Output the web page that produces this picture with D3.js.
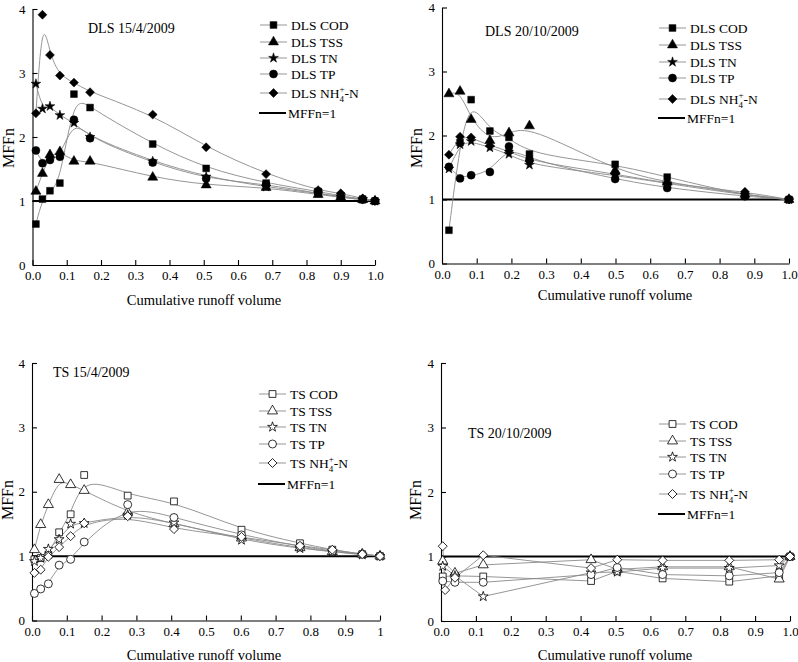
<!DOCTYPE html>
<html>
<head>
<meta charset="utf-8">
<script src="https://cdn.jsdelivr.net/npm/d3@7"></script>
<style>
  body { margin: 0; background: #fff; }
  svg { font-family: 'Liberation Serif', 'Times New Roman', serif; }
</style>
</head>
<body>
<script>
/* global d3 */

// series names (legend order)
const seriesKeys = ['COD', 'TSS', 'TN', 'TP', 'NH4']
const yTicks = [0, 1, 2, 3, 4]
const xTicks = [0, 0.1, 0.2, 0.3, 0.4, 0.5, 0.6, 0.7, 0.8, 0.9, 1]

// DLS 15/4/2009
const dlsAprX = [0.01, 0.029, 0.051, 0.08, 0.121, 0.168, 0.351, 0.507, 0.682, 0.834, 0.90, 0.964, 1.0]
const dlsAprCOD = [0.64, 1.03, 1.16, 1.28, 2.67, 2.46, 1.89, 1.51, 1.28, 1.15, 1.08, 1.03, 1.0]
const dlsAprTSS = [1.15, 1.43, 1.72, 1.77, 1.62, 1.62, 1.37, 1.25, 1.21, 1.10, 1.06, 1.02, 1.0]
const dlsAprTN = [2.83, 2.44, 2.48, 2.34, 2.22, 2.0, 1.62, 1.38, 1.22, 1.12, 1.07, 1.03, 1.0]
const dlsAprTP = [1.79, 1.59, 1.64, 1.69, 2.27, 1.98, 1.60, 1.35, 1.26, 1.12, 1.06, 1.02, 1.0]
const dlsAprNH4 = [2.37, 3.91, 3.28, 2.96, 2.85, 2.70, 2.35, 1.84, 1.42, 1.17, 1.12, 1.04, 1.0]

// DLS 20/10/2009
const dlsOctX = [0.02, 0.052, 0.084, 0.138, 0.193, 0.252, 0.499, 0.649, 0.873, 1.0]
const dlsOctCOD = [0.52, 1.89, 2.56, 2.07, 1.97, 1.71, 1.55, 1.35, 1.06, 1.0]
const dlsOctTSS = [2.65, 2.69, 2.25, 1.92, 2.04, 2.15, 1.45, 1.27, 1.08, 1.0]
const dlsOctTN = [1.48, 1.86, 1.91, 1.81, 1.71, 1.54, 1.38, 1.25, 1.07, 1.0]
const dlsOctTP = [1.51, 1.33, 1.38, 1.43, 1.83, 1.62, 1.32, 1.18, 1.05, 1.0]
const dlsOctNH4 = [1.70, 1.98, 1.97, 1.84, 1.76, 1.60, 1.40, 1.25, 1.12, 1.0]

// TS 15/4/2009
const tsAprX = [0.007, 0.025, 0.047, 0.078, 0.111, 0.15, 0.275, 0.408, 0.602, 0.77, 0.863, 0.949, 1.0]
const tsAprCOD = [0.95, 0.97, 1.02, 1.37, 1.65, 2.26, 1.94, 1.85, 1.41, 1.20, 1.10, 1.03, 1.0]
const tsAprTSS = [1.10, 1.49, 1.80, 2.19, 2.11, 2.02, 1.68, 1.50, 1.28, 1.13, 1.07, 1.03, 1.0]
const tsAprTN = [0.92, 0.97, 1.11, 1.26, 1.50, 1.51, 1.64, 1.52, 1.25, 1.12, 1.07, 1.02, 1.0]
const tsAprTP = [0.42, 0.49, 0.57, 0.86, 0.95, 1.22, 1.80, 1.60, 1.33, 1.15, 1.08, 1.03, 1.0]
const tsAprNH4 = [0.74, 0.79, 0.99, 1.14, 1.31, 1.51, 1.62, 1.42, 1.30, 1.16, 1.10, 1.03, 1.0]

// TS 20/10/2009 (null = no sample)
const tsOctX = [0.005, 0.012, 0.04, 0.121, 0.43, 0.505, 0.635, 0.826, 0.969, 1.0]
const tsOctCOD = [0.69, null, 0.70, 0.69, 0.62, 0.77, 0.66, 0.61, 0.70, 1.0]
const tsOctTSS = [0.93, null, 0.74, 0.87, 0.95, 0.80, 0.84, 0.84, 0.65, 1.0]
const tsOctTN = [0.85, null, 0.70, 0.38, 0.75, 0.76, 0.82, 0.82, 0.86, 1.0]
const tsOctTP = [0.62, null, 0.60, 0.60, 0.72, 0.83, 0.72, 0.70, 0.75, 1.0]
const tsOctNH4 = [1.16, 0.48, 0.67, 1.02, 0.82, 0.95, 0.94, 0.94, 0.95, 1.0]

const panels = [
  {
    prefix: 'DLS', title: 'DLS 15/4/2009', open: false, curve: d3.curveBasis,
    xs: dlsAprX, values: [dlsAprCOD, dlsAprTSS, dlsAprTN, dlsAprTP, dlsAprNH4],
    xr: [32.5, 375], yr: [265, 9], tickFmt: d3.format('.1f'),
    titlePos: [88, 33], legX: 260, legRows: [25, 42, 58, 74, 93, 113],
    xLab: [204, 305], yLab: [14, 148]
  },
  {
    prefix: 'DLS', title: 'DLS 20/10/2009', open: false, curve: d3.curveBasis,
    xs: dlsOctX, values: [dlsOctCOD, dlsOctTSS, dlsOctTN, dlsOctTP, dlsOctNH4],
    xr: [442, 789], yr: [263.5, 7.5], tickFmt: d3.format('.1f'),
    titlePos: [485, 36], legX: 659, legRows: [28, 45, 62, 78, 99, 118],
    xLab: [615, 300], yLab: [422, 148]
  },
  {
    prefix: 'TS', title: 'TS 15/4/2009', open: true, curve: d3.curveBasis,
    xs: tsAprX, values: [tsAprCOD, tsAprTSS, tsAprTN, tsAprTP, tsAprNH4],
    xr: [32, 380], yr: [620.5, 363], tickFmt: d => d === 1 ? '1' : d3.format('.1f')(d),
    titlePos: [53, 377], legX: 259, legRows: [394, 411, 427, 444, 463, 484],
    xLab: [204, 660], yLab: [13, 500]
  },
  {
    prefix: 'TS', title: 'TS 20/10/2009', open: true, curve: d3.curveLinear,
    xs: tsOctX, values: [tsOctCOD, tsOctTSS, tsOctTN, tsOctTP, tsOctNH4],
    xr: [441, 790], yr: [621, 363], tickFmt: d3.format('.1f'),
    titlePos: [468, 438], legX: 659, legRows: [424, 441, 457, 474, 494, 514],
    xLab: [615, 660], yLab: [421, 500]
  }
]

const symbols = {
  COD: { type: d3.symbolSquare, size: 46, rot: 0 },
  TSS: { type: d3.symbolTriangle, size: 44, rot: 0 },
  TN: { type: d3.symbolStar, size: 30, rot: 0 },
  TP: { type: d3.symbolCircle, size: 50, rot: 0 },
  NH4: { type: d3.symbolSquare, size: 40, rot: 45 }
}

const svg = d3.select('body').append('svg')
  .attr('width', 798)
  .attr('height', 662)

svg.append('rect').attr('width', 798).attr('height', 662).attr('fill', '#fff')

function drawMarker (g, key, cx, cy, open) {
  const s = symbols[key]
  g.append('path')
    .attr('d', d3.symbol().type(s.type).size(s.size)())
    .attr('transform', 'translate(' + cx + ',' + cy + ') rotate(' + s.rot + ')')
    .attr('fill', open ? '#fff' : '#000')
    .attr('stroke', '#000')
    .attr('stroke-width', open ? 0.8 : 0.5)
}

function label (sel, prefix, key) {
  if (key !== 'NH4') {
    sel.text(prefix + ' ' + key)
    return
  }
  sel.append('tspan').text(prefix + ' NH')
  sel.append('tspan').attr('font-size', 9).attr('dy', 4).text('4')
  sel.append('tspan').attr('font-size', 9).attr('dx', -4.5).attr('dy', -10).text('+')
  sel.append('tspan').attr('dy', 6).text('-N')
}

panels.forEach(p => {
  const x = d3.scaleLinear().domain([0, 1]).range(p.xr)
  const y = d3.scaleLinear().domain([0, 4]).range(p.yr)
  const g = svg.append('g')

  // axes
  const xa = g.append('g')
    .attr('transform', 'translate(0,' + p.yr[0] + ')')
    .call(d3.axisBottom(x).tickValues(xTicks).tickFormat(p.tickFmt)
      .tickSizeInner(-5).tickSizeOuter(0).tickPadding(6))
  const ya = g.append('g')
    .attr('transform', 'translate(' + p.xr[0] + ',0)')
    .call(d3.axisLeft(y).tickValues(yTicks).tickFormat(d3.format('d'))
      .tickSizeInner(-5).tickSizeOuter(0).tickPadding(7))
  ;[xa, ya].forEach(a => {
    a.attr('font-family', null).attr('font-size', 13)
    a.selectAll('text').attr('fill', '#000')
    a.selectAll('line, path').attr('stroke', '#000').attr('stroke-width', 1.1)
  })

  // MFFn = 1 reference
  g.append('line')
    .attr('x1', x(0)).attr('x2', x(1))
    .attr('y1', y(1)).attr('y2', y(1))
    .attr('stroke', '#000').attr('stroke-width', 2)

  // series curves then markers
  const line = d3.line()
    .defined(d => d[1] != null)
    .x(d => x(d[0]))
    .y(d => y(d[1]))
    .curve(p.curve)

  seriesKeys.forEach((key, i) => {
    const pts = p.xs.map((v, j) => [v, p.values[i][j]]).filter(d => d[1] != null)
    g.append('path')
      .datum(pts)
      .attr('d', line)
      .attr('fill', 'none')
      .attr('stroke', '#8a8a8a')
      .attr('stroke-width', 0.9)
  })
  seriesKeys.forEach((key, i) => {
    p.xs.forEach((v, j) => {
      const val = p.values[i][j]
      if (val == null) return
      drawMarker(g, key, x(v), y(val), p.open)
    })
  })

  // title
  g.append('text')
    .attr('x', p.titlePos[0]).attr('y', p.titlePos[1])
    .attr('font-size', 14)
    .text(p.title)

  // legend
  seriesKeys.forEach((key, i) => {
    const cy = p.legRows[i]
    g.append('line')
      .attr('x1', p.legX).attr('x2', p.legX + 27)
      .attr('y1', cy).attr('y2', cy)
      .attr('stroke', '#8a8a8a').attr('stroke-width', 0.9)
    drawMarker(g, key, p.legX + 13.5, cy, p.open)
    g.append('text')
      .attr('x', p.legX + 31).attr('y', cy + 4.5)
      .attr('font-size', 13.5)
      .call(label, p.prefix, key)
  })
  const ry = p.legRows[5]
  g.append('line')
    .attr('x1', p.legX - 1).attr('x2', p.legX + 26)
    .attr('y1', ry).attr('y2', ry)
    .attr('stroke', '#000').attr('stroke-width', 2)
  g.append('text')
    .attr('x', p.legX + 28).attr('y', ry + 4.5)
    .attr('font-size', 13.5)
    .text('MFFn=1')

  // axis titles
  g.append('text')
    .attr('x', p.xLab[0]).attr('y', p.xLab[1])
    .attr('text-anchor', 'middle')
    .attr('font-size', 14.5)
    .text('Cumulative runoff volume')
  g.append('text')
    .attr('transform', 'translate(' + p.yLab[0] + ',' + p.yLab[1] + ') rotate(-90)')
    .attr('text-anchor', 'middle')
    .attr('font-size', 16)
    .text('MFFn')
})
</script>
</body>
</html>
